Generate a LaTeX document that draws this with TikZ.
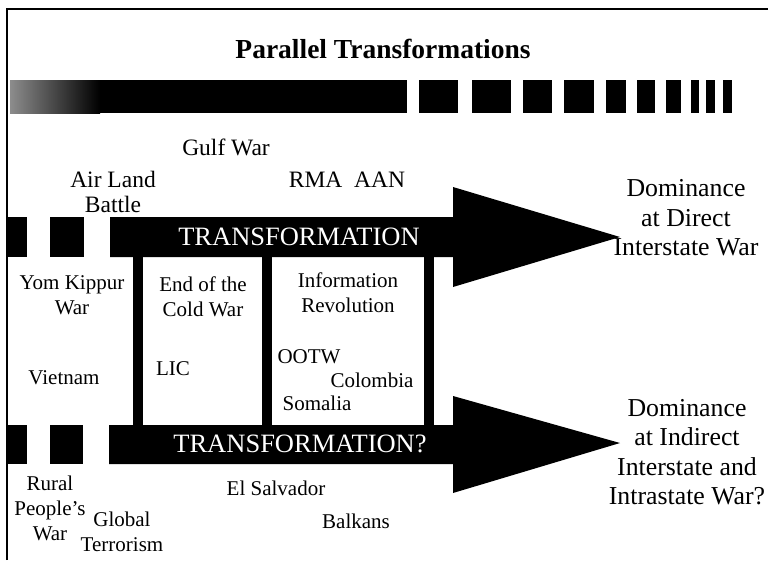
\documentclass[tikz,border=0pt]{standalone}
\usepackage{fontspec}
\setmainfont{Liberation Serif}
\begin{document}
\begin{tikzpicture}[x=1pt, y=-1pt,
  lbl/.style={font=\fontsize{21}{25}\selectfont, align=center, inner sep=0pt},
  toplbl/.style={font=\fontsize{23.5}{25}\selectfont, align=center, inner sep=0pt},
  goal/.style={font=\fontsize{25.8}{29.5}\selectfont, align=center, inner sep=0pt},
  bandtext/.style={font=\fontsize{26.5}{28}\selectfont, text=white, inner sep=0pt}]
  \useasboundingbox (0,0) rectangle (768,560);
  %Frame, only the left and top edges show
  \draw [line width=1.3] (7,560) -- (7,9) -- (768,9);
  \node (title) at (383,49) [font=\fontsize{27.5}{30}\selectfont\bfseries, inner sep=0pt] {Parallel Transformations};
  % Time bar with the fading start and the breaking end
  \fill [black] (95,80) rectangle (407,113);
  \shade [left color=black!45, right color=black] (10,80) rectangle (100,113);
  \foreach \a/\b in {419/458, 472/511, 523/552, 564/594, 606/626, 637/655, 666/681, 691/699, 706/715, 723/732}
    \fill [black] (\a,80) rectangle (\b,113);
  % Upper arrow
  \fill [black] (7,217) rectangle (27,257);
  \fill [black] (50,217) rectangle (84,257);
  \fill [black] (110,217) -- (453,217) -- (453,187) -- (620,237) -- (453,287) -- (453,257) -- (110,257) -- cycle;
  % Lower arrow
  \fill [black] (7,425) rectangle (27,464);
  \fill [black] (50,425) rectangle (83,464);
  \fill [black] (109,425) -- (453,425) -- (453,396) -- (620,443) -- (453,493) -- (453,464) -- (109,464) -- cycle;
  % Pillars between the two arrows
  \foreach \a in {133, 262, 424}
    \fill [black] (\a,257) rectangle (\a+10,425);
  \node (trans) at (299,237) [bandtext] {TRANSFORMATION};
  \node (transq) at (300,444) [bandtext] {TRANSFORMATION?};
  % Above the upper arrow
  \node (gulf) at (226,147) [toplbl] {Gulf War};
  \node (rma) at (347,180) [toplbl] {RMA\ \ AAN};
  \node (airland) at (113,192) [toplbl] {Air Land\\Battle};
  \node (domdirect) at (686,218) [goal] {Dominance\\at Direct\\Interstate War};
  % Between the arrows
  \node (yomkippur) at (72,295) [lbl] {Yom Kippur\\War};
  \node (coldwar) at (203,297) [lbl] {End of the\\Cold War};
  \node (inforev) at (348,293) [lbl] {Information\\Revolution};
  \node (vietnam) at (64,378) [lbl] {Vietnam};
  \node (lic) at (173,369) [lbl] {LIC};
  \node (ootw) at (309,357) [lbl] {OOTW};
  \node (colombia) at (372,380) [lbl] {Colombia};
  \node (somalia) at (317,403) [lbl] {Somalia};
  % Below the lower arrow
  \node (rural) at (50,508) [lbl] {Rural\\People's\\War};
  \node (terror) at (122,532) [lbl] {Global\\Terrorism};
  \node (salvador) at (276,488) [lbl] {El Salvador};
  \node (balkans) at (356,521) [lbl] {Balkans};
  \node (domindirect) at (687,452) [goal] {Dominance\\at Indirect\\Interstate and\\Intrastate War?};
\end{tikzpicture}
\end{document}
